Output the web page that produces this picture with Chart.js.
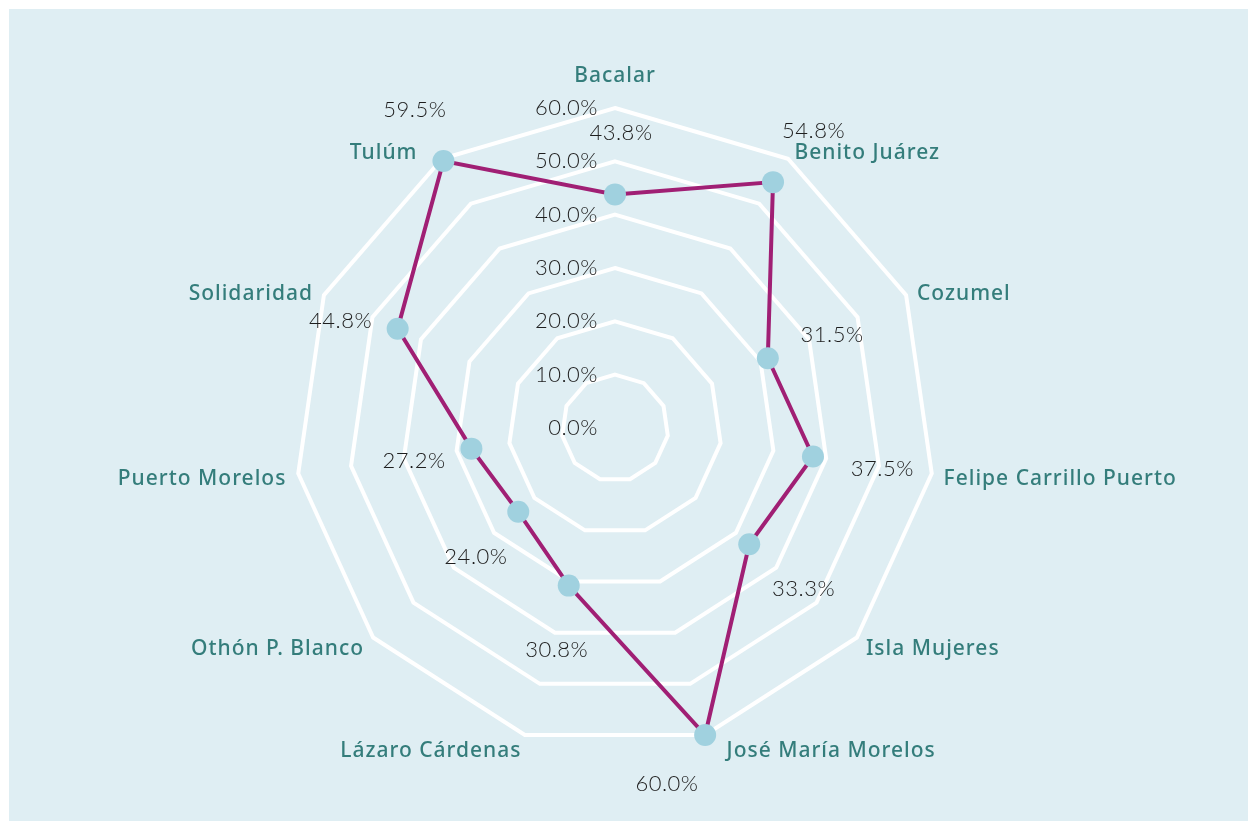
<!DOCTYPE html>
<html>
<head>
<meta charset="utf-8">
<script src="https://cdn.jsdelivr.net/npm/chart.js@4.4.1/dist/chart.umd.min.js"></script>
<style>
  html, body { margin: 0; padding: 0; background: #fff; }
  canvas { display: block; }
</style>
</head>
<body>
<canvas id="radarChart" width="1248" height="821"></canvas>
<script>
// data
const municipios = [
  "Bacalar", "Benito Juárez", "Cozumel", "Felipe Carrillo Puerto", "Isla Mujeres",
  "José María Morelos", "Lázaro Cárdenas", "Othón P. Blanco", "Puerto Morelos",
  "Solidaridad", "Tulúm"
];
const porcentajes = [43.8, 54.8, 31.5, 37.5, 33.3, 60.0, 30.8, 24.0, 27.2, 44.8, 59.5];
const tickValues = [0, 10, 20, 30, 40, 50, 60];

const BG = "#dfeef3";
const LINE = "#a01f74";
const DOT = "#a0d1df";
const LABEL = "#347d7b";
const TEXT = "#1e1e1e";
const catFont = "500 21px 'Noto Sans', sans-serif";
const numFont = "300 22px Lato, sans-serif";

const pct = (v) => v.toFixed(1) + "%";

//Background panel
const bgPlugin = {
  id: "bgPanel",
  beforeDraw: (chart) => {
    const c = chart.ctx;
    c.save();
    c.fillStyle = "#ffffff";
    c.fillRect(0, 0, chart.width, chart.height);
    c.fillStyle = BG;
    c.fillRect(9, 9, chart.width - 9, chart.height - 9);
    c.restore();
  },
};

// boxes touch if closer than a few pixels sideways
const overlaps = (a, b, m) =>
  a.x1 - m < b.x2 && a.x2 + m > b.x1 && a.y1 < b.y2 && a.y2 > b.y1;

//Tick labels, category labels and value labels
const labelsPlugin = {
  id: "radarLabels",
  afterDatasetsDraw: (chart) => {
    const c = chart.ctx;
    const scale = chart.scales.r;
    const cx = scale.xCenter;
    const cy = scale.yCenter;
    const R = scale.drawingArea;
    c.save();

    // tick labels, right aligned left of centre
    c.font = numFont;
    c.letterSpacing = "0.5px";
    c.fillStyle = TEXT;
    c.textAlign = "right";
    c.textBaseline = "middle";
    tickValues.forEach((v) => {
      const d = scale.getDistanceFromCenterForValue(v);
      c.fillText(pct(v), cx - 17, cy - d);
    });

    // category labels
    c.font = catFont;
    c.letterSpacing = "1px";
    c.fillStyle = LABEL;
    const boxes = [];
    const catSide = [];
    municipios.forEach((name, i) => {
      const p = scale.getPointPositionForValue(i, scale.max);
      const dx = (p.x - cx) / R;
      const dy = (p.y - cy) / R;
      let x = cx + dx * (R + 12);
      let y = cy + dy * (R + 12) + 4;
      let align = dx > 0 ? "left" : "right";
      if (Math.abs(dx) < 0.05) {
        align = "center";
        y -= 24;
      } else if (porcentajes[i] / scale.max >= 0.95) {
        x += Math.sign(dx) * 18;
      }
      c.textAlign = align;
      c.fillText(name, x, y);
      const w = c.measureText(name).width;
      const x1 = align === "left" ? x : align === "right" ? x - w : x - w / 2;
      boxes.push({ x1: x1, x2: x1 + w, y1: y - 11, y2: y + 11 });
      catSide.push(align === "center" ? 0 : align === "left" ? 1 : -1);
    });

    // value labels, moved round the point when they hit a category label
    c.font = numFont;
    c.letterSpacing = "0.5px";
    c.fillStyle = TEXT;
    c.textAlign = "center";
    const meta = chart.getDatasetMeta(0);
    meta.data.forEach((pt, i) => {
      const txt = pct(porcentajes[i]);
      const w = c.measureText(txt).width;
      let base = Math.atan2(pt.y - cy, pt.x - cx);
      if (porcentajes[i] / scale.max >= 0.95 && pt.y > cy) {
        base += catSide[i] * (Math.PI / 3);
      }
      const tries = [0, -15, -30, 15, 30, -45, 45, -60, 60];
      let x = 0, y = 0;
      for (const t of tries) {
        const a = base + (t * Math.PI) / 180;
        x = pt.x + Math.cos(a) * 64 + 6;
        y = pt.y + Math.sin(a) * 64 + 3;
        const box = { x1: x - w / 2, x2: x + w / 2, y1: y - 10, y2: y + 10 };
        if (!boxes.some((b) => overlaps(b, box, 10))) break;
      }
      c.fillText(txt, x, y);
    });
    c.restore();
  },
};

const ctx = document.getElementById("radarChart").getContext("2d");
const radarChart = new Chart(ctx, {
  type: "radar",
  data: {
    labels: municipios,
    datasets: [
      {
        label: "Porcentaje",
        data: porcentajes,
        borderColor: LINE,
        borderWidth: 4,
        backgroundColor: "rgba(0,0,0,0)",
        fill: false,
        pointRadius: 11,
        pointHoverRadius: 11,
        pointBackgroundColor: DOT,
        pointBorderColor: DOT,
        pointBorderWidth: 0,
        tension: 0,
      },
    ],
  },
  options: {
    responsive: false,
    animation: false,
    events: [],
    layout: {
      padding: { top: 108, bottom: 73, left: 295, right: 313 },
    },
    plugins: {
      legend: { display: false },
      tooltip: { enabled: false },
    },
    scales: {
      r: {
        min: 0,
        max: 60,
        ticks: { stepSize: 10, display: false },
        grid: { color: "#ffffff", lineWidth: 4, circular: false },
        angleLines: { display: false },
        pointLabels: { display: false },
      },
    },
  },
  plugins: [bgPlugin, labelsPlugin],
});
</script>
</body>
</html>
